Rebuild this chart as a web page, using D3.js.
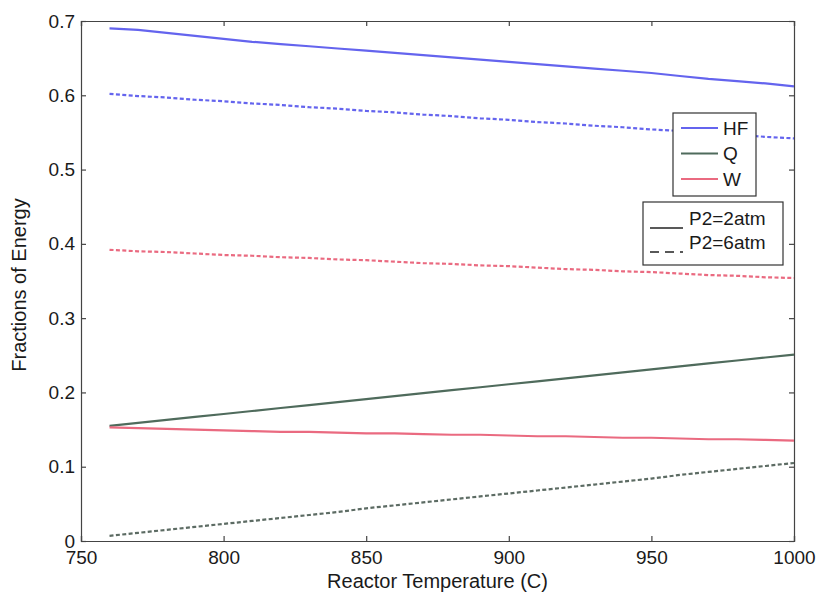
<!DOCTYPE html>
<html><head><meta charset="utf-8">
<script src="https://cdn.jsdelivr.net/npm/d3@7"></script>
<style>body{margin:0;background:#fff}svg{display:block}text{font-family:"Liberation Sans",Arial,sans-serif;fill:#1a1a1a}</style>
</head><body><svg id="c" width="817" height="592"></svg>
<script>
const temps = [760,770,780,790,800,810,820,830,840,850,860,870,880,890,900,910,920,930,940,950,960,970,980,990,1000];
const hf2 = [.690,.688,.684,.680,.676,.672,.669,.666,.663,.660,.657,.654,.651,.648,.645,.642,.639,.636,.633,.630,.626,.622,.619,.616,.612];
const hf6 = [.602,.599,.597,.594,.592,.589,.587,.584,.582,.579,.577,.574,.572,.569,.567,.564,.562,.559,.557,.554,.552,.549,.547,.544,.542];
const q2 = [.155,.159,.163,.167,.171,.175,.179,.183,.187,.191,.195,.199,.203,.207,.211,.215,.219,.223,.227,.231,.235,.239,.243,.247,.251];
const q6 = [.007,.011,.015,.019,.023,.027,.031,.035,.039,.044,.048,.052,.056,.060,.064,.068,.072,.076,.080,.084,.089,.093,.097,.101,.105];
const w2 = [.153,.152,.151,.150,.149,.148,.147,.147,.146,.145,.145,.144,.143,.143,.142,.141,.141,.140,.139,.139,.138,.137,.137,.136,.135];
const w6 = [.392,.390,.389,.387,.385,.384,.382,.381,.379,.378,.376,.374,.373,.371,.370,.368,.366,.365,.363,.362,.360,.358,.357,.355,.354];
const xTicks = [750,800,850,900,950,1000];
const yTicks = [0,0.1,0.2,0.3,0.4,0.5,0.6,0.7];
const seriesNames = ["HF","Q","W"];
const pressureNames = ["P2=2atm","P2=6atm"];

const colors = {HF:"#6464ee", Q:"#4f6b5c", W:"#ea6a80"};
const series = [
  {name:"HF", p:0, v:hf2}, {name:"HF", p:1, v:hf6},
  {name:"Q", p:0, v:q2}, {name:"Q", p:1, v:q6},
  {name:"W", p:0, v:w2}, {name:"W", p:1, v:w6}
];
const svg = d3.select("#c");
const L=81, R=794, T=21, B=541;
const x = d3.scaleLinear().domain([750,1000]).range([L,R]);
const y = d3.scaleLinear().domain([0,0.7]).range([B,T]);
const fmt = d => d===0 ? "0" : String(d);

// axes
const ax = svg.append("g");
ax.append("g").attr("transform",`translate(0,${B})`)
  .call(d3.axisBottom(x).tickValues(xTicks).tickSize(-5).tickPadding(10).tickFormat(d=>d));
ax.append("g").attr("transform",`translate(0,${T})`)
  .call(d3.axisTop(x).tickValues(xTicks).tickSize(-5).tickFormat(""));
ax.append("g").attr("transform",`translate(${L},0)`)
  .call(d3.axisLeft(y).tickValues(yTicks).tickSize(-5).tickPadding(6).tickFormat(fmt));
ax.append("g").attr("transform",`translate(${R},0)`)
  .call(d3.axisRight(y).tickValues(yTicks).tickSize(-5).tickFormat(""));
ax.selectAll(".domain").attr("stroke","#444").attr("stroke-width",1.2);
ax.selectAll(".tick line").attr("stroke","#444").attr("stroke-width",1.2);
ax.selectAll(".tick text").attr("font-size",19).attr("fill","#1a1a1a")
  .style("font-family",'"Liberation Sans",Arial,sans-serif');

// lines
const line = d3.line().x((d,i)=>x(temps[i])).y(d=>y(d));
svg.append("g").selectAll("path").data(series).join("path")
  .attr("d",d=>line(d.v)).attr("fill","none")
  .attr("stroke",d=>d.p===1 && d.name==="Q" ? "#5c6b63" : colors[d.name])
  .attr("stroke-width",2.2)
  .attr("stroke-dasharray",d=>d.p===1?"4,2.4":null);

// axis labels
svg.append("text").attr("x",(L+R)/2).attr("y",588).attr("text-anchor","middle")
  .attr("font-size",20).text("Reactor Temperature (C)");
svg.append("text").attr("transform",`translate(26,${(T+B)/2 + 4}) rotate(-90)`)
  .attr("text-anchor","middle").attr("font-size",20).text("Fractions of Energy");

// legend 1
const lg1 = svg.append("g");
lg1.append("rect").attr("x",673).attr("y",113).attr("width",83).attr("height",83)
  .attr("fill","#fff").attr("stroke","#333").attr("stroke-width",1.2);
seriesNames.forEach((n,i)=>{
  const yy = 128 + i*25.5;
  lg1.append("line").attr("x1",681).attr("x2",718).attr("y1",yy).attr("y2",yy)
    .attr("stroke",colors[n]).attr("stroke-width",2.2);
  lg1.append("text").attr("x",723).attr("y",yy).attr("dy","0.35em").attr("font-size",19).text(n);
});
// legend 2
const lg2 = svg.append("g");
lg2.append("rect").attr("x",643).attr("y",202).attr("width",140).attr("height",63)
  .attr("fill","#fff").attr("stroke","#333").attr("stroke-width",1.2);
pressureNames.forEach((n,i)=>{
  const ly = 228 + i*24, ty = 218 + i*24;
  lg2.append("line").attr("x1",650).attr("x2",683).attr("y1",ly).attr("y2",ly)
    .attr("stroke","#222").attr("stroke-width",1.3)
    .attr("stroke-dasharray",i===1?"9,6":null);
  lg2.append("text").attr("x",689).attr("y",ty).attr("dy","0.35em").attr("font-size",19).text(n);
});
</script></body></html>
